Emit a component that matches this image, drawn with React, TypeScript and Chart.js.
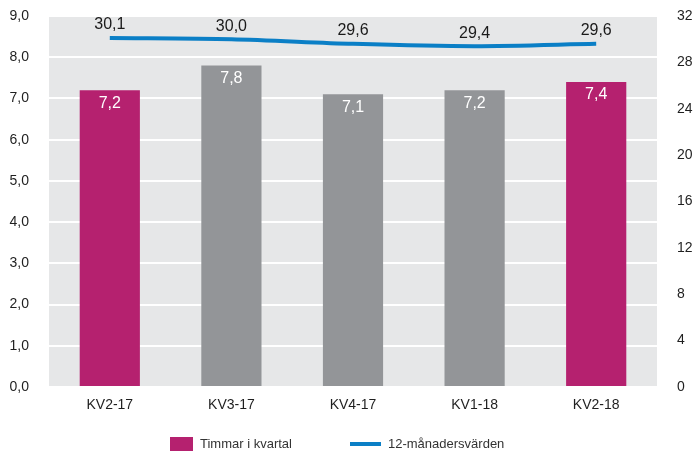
import { useEffect, useRef } from "react";
import { Chart, registerables } from "chart.js";

Chart.register(...registerables);

const categories = ["KV2-17", "KV3-17", "KV4-17", "KV1-18", "KV2-18"];
const hoursPerQuarter = [7.2, 7.8, 7.1, 7.2, 7.4];
const twelveMonthValues = [30.1, 30.0, 29.6, 29.4, 29.6];
const seriesNames = ["Timmar i kvartal", "12-månadersvärden"];
const leftAxis = { min: 0, max: 9, step: 1 };
const rightAxis = { min: 0, max: 32, step: 4 };

const MAGENTA = "#b5216f";
const GRAY = "#939598";
const BLUE = "#0b7fc6";
const FONT = "'Liberation Sans', Arial, sans-serif";

const fmt = (v: number) => v.toFixed(1).replace(".", ",");

const plotBg = {
  id: "plotBg",
  beforeDraw(chart: any) {
    const { ctx, chartArea } = chart;
    ctx.save();
    ctx.fillStyle = "#e6e7e8";
    ctx.fillRect(chartArea.left, chartArea.top, chartArea.right - chartArea.left, chartArea.bottom - chartArea.top);
    ctx.restore();
  },
};

const valueLabels = {
  id: "valueLabels",
  afterDatasetsDraw(chart: any) {
    const ctx = chart.ctx;
    ctx.save();
    ctx.font = `16px ${FONT}`;
    ctx.textAlign = "center";
    ctx.textBaseline = "middle";
    chart.data.datasets.forEach((ds: any, i: number) => {
      const meta = chart.getDatasetMeta(i);
      meta.data.forEach((el: any, j: number) => {
        const text = fmt(ds.data[j]);
        if (meta.type === "bar") {
          ctx.fillStyle = "#ffffff";
          ctx.fillText(text, el.x, el.y + 13);
        } else {
          ctx.fillStyle = "#1a1a1a";
          ctx.fillText(text, el.x, el.y - 13);
        }
      });
    });
    ctx.restore();
  },
};

const bottomLegend = {
  id: "bottomLegend",
  afterDraw(chart: any) {
    const ctx = chart.ctx;
    const ds = chart.data.datasets;
    const barDs = ds.find((d: any) => d.type === "bar");
    const lineDs = ds.find((d: any) => d.type === "line");
    const cy = 444;
    ctx.save();
    ctx.font = `13px ${FONT}`;
    ctx.textAlign = "left";
    ctx.textBaseline = "middle";
    ctx.fillStyle = MAGENTA;
    ctx.fillRect(170, cy - 7, 23, 14);
    ctx.fillStyle = "#333333";
    ctx.fillText(barDs.label, 200, cy);
    ctx.strokeStyle = lineDs.borderColor;
    ctx.lineWidth = 4;
    ctx.beginPath();
    ctx.moveTo(350, cy);
    ctx.lineTo(381, cy);
    ctx.stroke();
    ctx.fillStyle = "#333333";
    ctx.fillText(lineDs.label, 388, cy);
    ctx.restore();
  },
};

export default function App() {
  const ref = useRef<HTMLCanvasElement | null>(null);

  useEffect(() => {
    if (!ref.current) return;
    Chart.defaults.font.family = FONT;
    const chart = new Chart(ref.current, {
      type: "bar",
      data: {
        labels: categories,
        datasets: [
          {
            type: "line",
            label: seriesNames[1],
            data: twelveMonthValues,
            yAxisID: "y1",
            borderColor: BLUE,
            backgroundColor: BLUE,
            borderWidth: 4,
            pointRadius: 0,
            tension: 0.3,
            order: 0,
          } as any,
          {
            type: "bar",
            label: seriesNames[0],
            data: hoursPerQuarter,
            yAxisID: "y",
            backgroundColor: [MAGENTA, GRAY, GRAY, GRAY, MAGENTA],
            barPercentage: 0.495,
            categoryPercentage: 1,
            order: 1,
          } as any,
        ],
      },
      options: {
        responsive: false,
        animation: false,
        layout: { padding: { top: 16, left: 0, right: 0, bottom: 0 } },
        plugins: { legend: { display: false }, tooltip: { enabled: false } },
        scales: {
          x: {
            grid: { display: false, drawTicks: false },
            border: { display: false },
            ticks: { font: { size: 14 }, color: "#1f1f1f", padding: 10 },
            afterFit: (s: any) => { s.height = 65; },
          },
          y: {
            position: "left",
            min: leftAxis.min,
            max: leftAxis.max,
            grid: { color: "#ffffff", lineWidth: 2, drawTicks: false },
            border: { display: false },
            ticks: {
              stepSize: leftAxis.step,
              font: { size: 14 },
              color: "#1f1f1f",
              padding: 20,
              callback: (v: any) => fmt(Number(v)),
            },
            afterFit: (s: any) => { s.width = 49; s.paddingTop = 0; s.paddingBottom = 0; },
          },
          y1: {
            position: "right",
            min: rightAxis.min,
            max: rightAxis.max,
            grid: { display: false, drawTicks: false },
            border: { display: false },
            ticks: { stepSize: rightAxis.step, font: { size: 14 }, color: "#1f1f1f", padding: 20 },
            afterFit: (s: any) => { s.width = 37; s.paddingTop = 0; s.paddingBottom = 0; },
          },
        },
      },
      plugins: [plotBg, valueLabels, bottomLegend],
    });
    return () => chart.destroy();
  }, []);

  return (
    <div style={{ position: "absolute", left: 0, top: 0, width: 694, height: 452, background: "#ffffff" }}>
      <canvas ref={ref} width={694} height={452} style={{ display: "block" }} />
    </div>
  );
}
